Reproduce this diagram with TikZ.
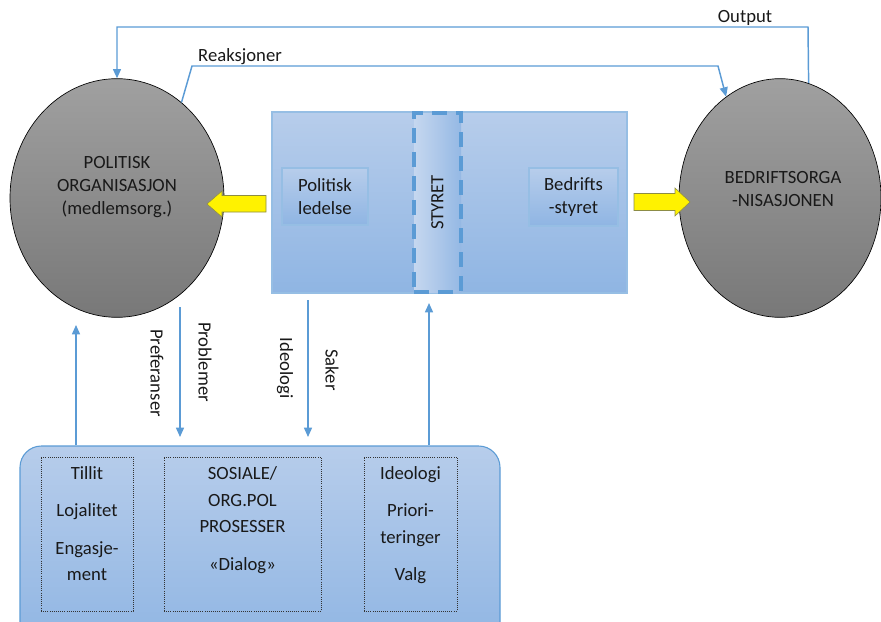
\documentclass[tikz,border=0pt]{standalone}
\usepackage{fontspec}
\setmainfont{Carlito}
\usetikzlibrary{arrows.meta,calc,positioning,shapes.geometric,fit}

\definecolor{flowblue}{RGB}{91,155,213}
\definecolor{paneltop}{RGB}{183,205,235}
\definecolor{panelbot}{RGB}{143,181,227}
\definecolor{panelline}{RGB}{150,190,228}
\definecolor{orgtop}{RGB}{160,160,160}
\definecolor{orgbot}{RGB}{120,120,120}
\definecolor{arrowedge}{RGB}{140,140,70}

\tikzset{
  flow/.style={draw=flowblue, line width=1.1pt, -{Triangle[length=7pt,width=6pt]}},
  orgnode/.style={ellipse, draw=black, line width=0.5pt, top color=orgtop, bottom color=orgbot,
    minimum height=179pt, inner sep=0pt},
  panel/.style={draw=panelline, line width=0.8pt, top color=paneltop, bottom color=panelbot, inner sep=0pt},
  styrebox/.style={draw=flowblue, line width=3pt, dash pattern=on 11pt off 7pt,
    left color=paneltop!80!white, right color=panelbot!85!paneltop, inner sep=0pt},
  dotbox/.style={draw=black!80, densely dotted, line width=0.6pt, inner sep=0pt},
  basebox/.style={draw=flowblue, line width=0.8pt, rounded corners=16pt,
    top color=paneltop, bottom color=panelbot, inner sep=0pt},
  yarrow/.style={fill=yellow, draw=arrowedge, line width=0.4pt},
  txt/.style={font=\fontsize{14}{17.5}\selectfont, align=center, text=black!90, inner sep=0.75pt},
  listtxt/.style={font=\fontsize{14}{20}\selectfont, align=center, text=black!90, inner sep=0.75pt},
}

\begin{document}
\begin{tikzpicture}[x=0.75pt,y=0.75pt,yscale=-1,xscale=1]
\useasboundingbox (0,0) rectangle (881,621);

%Shape: Rounded Rectangle [base]
\node[basebox, fit={(20,446) (500,650)}] (base) {};
%Shape: Rectangle [dotted boxes]
\node[dotbox, fit={(41,457) (133,611)}] (tillit) {};
\node[dotbox, fit={(164,457) (321,611)}] (sosiale) {};
\node[dotbox, fit={(364,457) (457,611)}] (valg) {};

% Text Node
\node[listtxt, below=8.5 of tillit.north] {Tillit\\[8pt]Lojalitet\\[8pt]Engasje-\\ment};
% Text Node
\node[listtxt, below=8.5 of sosiale.north] {SOSIALE/\\ORG.POL\\PROSESSER\\[8pt]«Dialog»};
% Text Node
\node[listtxt, below=8.5 of valg.north] {Ideologi\\[8pt]Priori-\\teringer\\[8pt]Valg};

%Shape: Ellipse [organisations]
\node[orgnode, minimum width=160.5pt] (porg) at (117,198) {};
\node[orgnode, minimum width=151.5pt] (borg) at (780,198) {};
% Text Node
\node[txt] (porgtxt) at (117,187) {POLITISK\\ORGANISASJON\\(medlemsorg.)};
% Text Node
\node[txt] (borgtxt) at (783,189) {BEDRIFTSORGA\\-NISASJONEN};

%Shape: Rectangle [styre panel]
\node[panel, fit={(272,112) (627,293)}] (styre) {};
\node[styrebox, fit={(414,113) (461,292)}] (styret) {};
% Text Node
\node[txt, rotate=90] at (styret.center) {STYRET};
%Shape: Rectangle [inner boxes]
\node[panel, fit={(282,168) (368,225)}] (ledelse) {};
\node[txt] at (ledelse.center) {Politisk\\ledelse};
\node[panel, fit={(529,168) (618,226)}] (bstyret) {};
\node[txt] at (bstyret.center) {Bedrifts\\-styret};

%Shape: Right Arrow [yellow]
\draw[yarrow] (266,195.5) -- (222,195.5) -- (222,191) -- (207,204) -- (222,217) -- (222,212) -- (266,212) -- cycle;
\draw[yarrow] (634,193.5) -- (675,193.5) -- (675,188) -- (690,202) -- (675,216) -- (675,210.5) -- (634,210.5) -- cycle;

%Straight Lines [feedback]
\coordinate (outc) at (808,27);
\draw[flow] (borg.76) -- (outc) -| (porg.north);
\node[txt, anchor=south] at (745,27) {Output};
\coordinate (reakA) at (192,66);
\coordinate (reakB) at (718,66);
\draw[flow] (porg.56) -- (reakA) -- (reakB) -- (borg.118);
\node[txt, anchor=south] at (240,66) {Reaksjoner};

%Straight Lines [vertical]
\coordinate (pinA) at (76,325);
\draw[flow] (base.north -| pinA) -- (pinA);
\coordinate (probA) at (180,307);
\coordinate (probB) at (180,437);
\draw[flow] (probA) -- (probB);
\node[txt, rotate=-90] at (157,373) {Preferanser};
\node[txt, rotate=-90] at (205,362) {Problemer};
\coordinate (sakA) at (308,300);
\coordinate (sakB) at (308,437);
\draw[flow] (sakA) -- (sakB);
\node[txt, rotate=-90] at (285,368) {Ideologi};
\node[txt, rotate=-90] at (332,370) {Saker};
\coordinate (valgA) at (429,303);
\draw[flow] (base.north -| valgA) -- (valgA);

\end{tikzpicture}
\end{document}
